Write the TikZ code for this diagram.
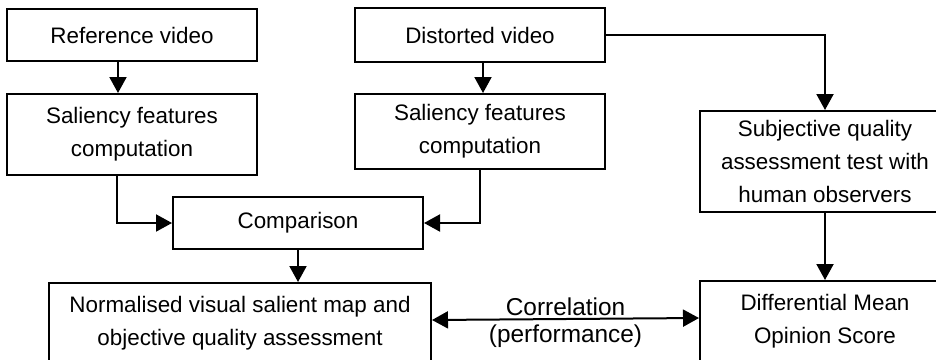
\documentclass[tikz,border=0pt]{standalone}
\usepackage{fontspec}
\setmainfont{Liberation Sans}
\usetikzlibrary{positioning, calc, arrows.meta}

\begin{document}
\begin{tikzpicture}[box/.style={rectangle,
      draw,
      line width=1pt,
      inner sep=0pt,
      minimum width=125pt,
      align=center,
      font=\fontsize{11.2}{16.5}\selectfont},
    flow/.style={line width=1pt,
      -{Triangle[length=8pt,width=8.5pt]}}]
  \clip (0,0) rectangle (468pt,-179.5pt);
  \useasboundingbox (0,0) rectangle (468pt,-179.5pt);

  \node [box, minimum height=26pt] at (66pt,-17.5pt) (ref) {Reference video};

  \node [box, minimum height=40.5pt, 
    below=15.5pt of ref] (sal1) {Saliency features\\computation};

  \node [box, minimum height=27pt, 
    right=48pt of ref] (dist) {Distorted video};

  \node [box, minimum height=37.5pt, 
    below=15pt of dist] (sal2) {Saliency features\\computation};

  \node [box, minimum height=50.5pt, 
    below right=23.5pt and 46.5pt of dist.south east, 
    anchor=north west] (subj) {Subjective quality\\assessment test with\\human observers};

  \node [box, minimum height=40.5pt, 
    below=33.5pt of subj] (dmos) {Differential Mean\\Opinion Score};

  \node [box, minimum height=26pt, 
    below right=10pt and 83pt of sal1.south west, 
    anchor=north west] (comp) {Comparison};

  \node [box, minimum height=40.5pt, minimum width=191pt, 
    below left=16pt and 62pt of comp.south west, 
    anchor=north west] (norm) {Normalised visual salient map and\\objective quality assessment};

% CONNECTORS

  \draw[flow] ([xshift=-7pt]ref.south) -- ([xshift=-7pt]sal1.north);
  \draw[flow] ([xshift=1.5pt]dist.south) -- ([xshift=1.5pt]sal2.north);
  \draw[flow] ([xshift=-7.5pt]sal1.south) |- (comp.west);
  \draw[flow] (sal2.south) |- (comp.east);
  \draw[flow] (dist.east) -| (subj.north);
  \draw[flow] (subj.south) -- (dmos.north);
  \draw[flow] (comp.south) -- (comp.south |- norm.north);

  \draw[flow, {Triangle[length=8pt,width=8.5pt]}-{Triangle[length=8pt,width=8.5pt]}] 
    ([yshift=1.75pt]norm.east) -- ([yshift=1.75pt]dmos.west)
    node [midway, above, inner sep=1pt, font=\fontsize{12.2}{14}\selectfont] (corr) {Correlation}
    node [midway, below, inner sep=2.5pt, font=\fontsize{12.2}{14}\selectfont] (perf) {(performance)};

\end{tikzpicture}
\end{document}
